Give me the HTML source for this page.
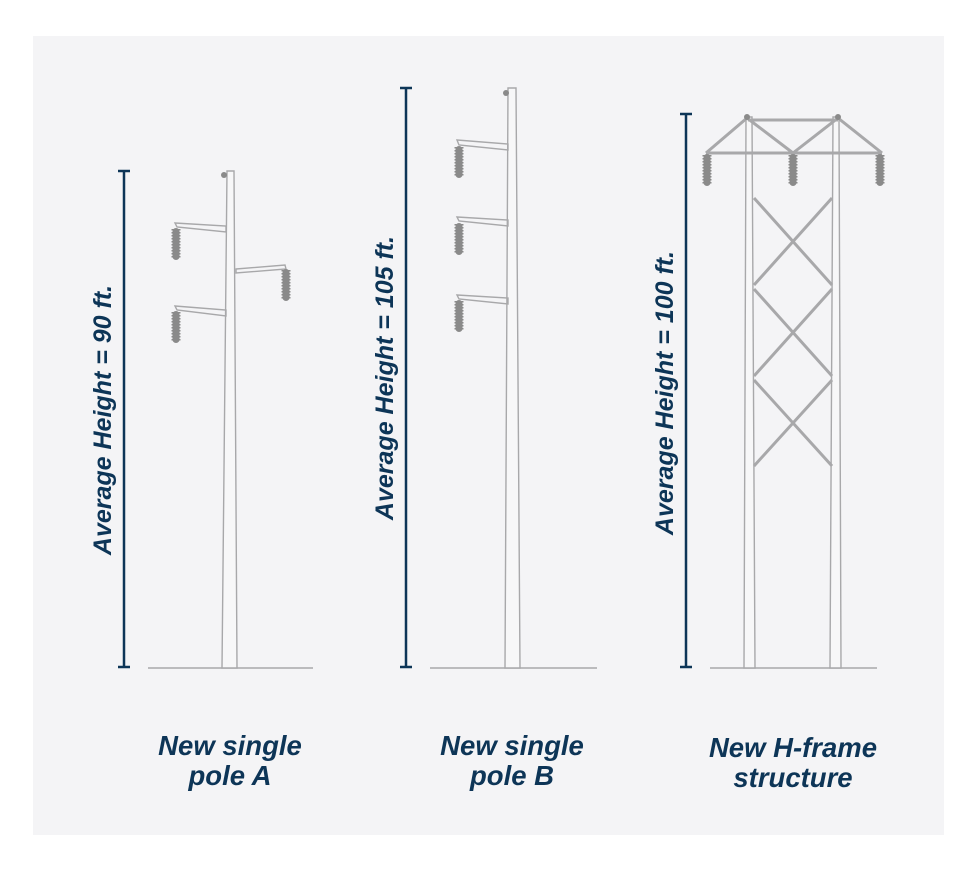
<!DOCTYPE html>
<html><head><style>
html,body{margin:0;padding:0;background:#fff;}
svg{display:block;}
text{font-family:"Liberation Sans",sans-serif;font-weight:bold;font-style:italic;fill:#0d3557;}
</style></head><body>
<svg width="978" height="871" viewBox="0 0 978 871" xmlns="http://www.w3.org/2000/svg">
<rect x="0" y="0" width="978" height="871" fill="#fff"/>
<rect x="33" y="36" width="911" height="799" fill="#f4f4f6"/>
<defs>
<g id="ins">
<rect x="-3.5" y="0" width="7" height="32" rx="3.5" fill="#8a8a8a"/>
<line x1="0" y1="1" x2="0" y2="31" stroke="#8a8a8a" stroke-width="9" stroke-dasharray="1.5 1.5"/>
</g>
</defs>
<g stroke="#a8a8aa" stroke-width="1.4" fill="none">
<line x1="148" y1="668" x2="313" y2="668"/>
<line x1="430" y1="668" x2="597" y2="668"/>
<line x1="710" y1="668" x2="877" y2="668"/>
<polygon points="227,171 234,171 237,668 222,668" fill="#f7f7f8"/>
<polygon points="175,223 226,226 226,232 177,227"/>
<polygon points="236,269 285,265 286,269 236,273"/>
<polygon points="175,306 226,310 226,316 177,310"/>
<polygon points="508,88 516,88 520,668 505,668" fill="#f7f7f8"/>
<polygon points="457,140 508,144 508,150 459,145"/>
<polygon points="457,217 508,220 508,226 459,221"/>
<polygon points="457,295 508,298 508,304 459,299"/>
<polygon points="746,117 752,117 755,668 744,668" fill="#f7f7f8"/>
<polygon points="833,117 839,117 841,668 830,668" fill="#f7f7f8"/>
<line x1="748" y1="120" x2="838" y2="120" stroke-width="3"/>
<line x1="706" y1="153" x2="882" y2="153" stroke-width="3"/>
<line x1="706" y1="153" x2="747" y2="118" stroke-width="3"/>
<line x1="747" y1="118" x2="793" y2="153" stroke-width="3"/>
<line x1="793" y1="153" x2="838" y2="118" stroke-width="3"/>
<line x1="838" y1="118" x2="882" y2="153" stroke-width="3"/>
<g stroke-width="3">
<line x1="754" y1="198" x2="832" y2="285"/><line x1="832" y1="198" x2="754" y2="285"/>
<line x1="754" y1="289" x2="832" y2="376"/><line x1="832" y1="289" x2="754" y2="376"/>
<line x1="754" y1="380" x2="832" y2="466"/><line x1="832" y1="380" x2="754" y2="466"/>
</g>
</g>
<g fill="#8a8a8a">
<circle cx="224" cy="175" r="3"/>
<circle cx="506" cy="93" r="3"/>
<circle cx="747" cy="117" r="3"/><circle cx="838" cy="117" r="3"/>
</g>
<use href="#ins" x="176" y="228"/>
<use href="#ins" x="286" y="269"/>
<use href="#ins" x="176" y="311"/>
<use href="#ins" x="459" y="146"/>
<use href="#ins" x="459" y="223"/>
<use href="#ins" x="459" y="300"/>
<use href="#ins" x="707" y="154"/>
<use href="#ins" x="793" y="154"/>
<use href="#ins" x="880" y="154"/>
<g stroke="#0d3557" stroke-width="2.5">
<line x1="124" y1="171" x2="124" y2="667"/><line x1="118" y1="171" x2="130" y2="171"/><line x1="118" y1="667" x2="130" y2="667"/>
<line x1="406" y1="88" x2="406" y2="667"/><line x1="400" y1="88" x2="412" y2="88"/><line x1="400" y1="667" x2="412" y2="667"/>
<line x1="686" y1="114" x2="686" y2="667"/><line x1="680" y1="114" x2="692" y2="114"/><line x1="680" y1="667" x2="692" y2="667"/>
</g>
<text transform="translate(111,420) rotate(-90)" text-anchor="middle" font-size="25">Average Height = 90 ft.</text>
<text transform="translate(393,378) rotate(-90)" text-anchor="middle" font-size="25">Average Height = 105 ft.</text>
<text transform="translate(673,393) rotate(-90)" text-anchor="middle" font-size="25">Average Height = 100 ft.</text>
<g font-size="27.5" text-anchor="middle">
<text x="230" y="755">New single</text><text x="230" y="785">pole A</text>
<text x="512" y="755">New single</text><text x="512" y="785">pole B</text>
<text x="793" y="757">New H-frame</text><text x="793" y="787">structure</text>
</g>
</svg>
</body></html>
